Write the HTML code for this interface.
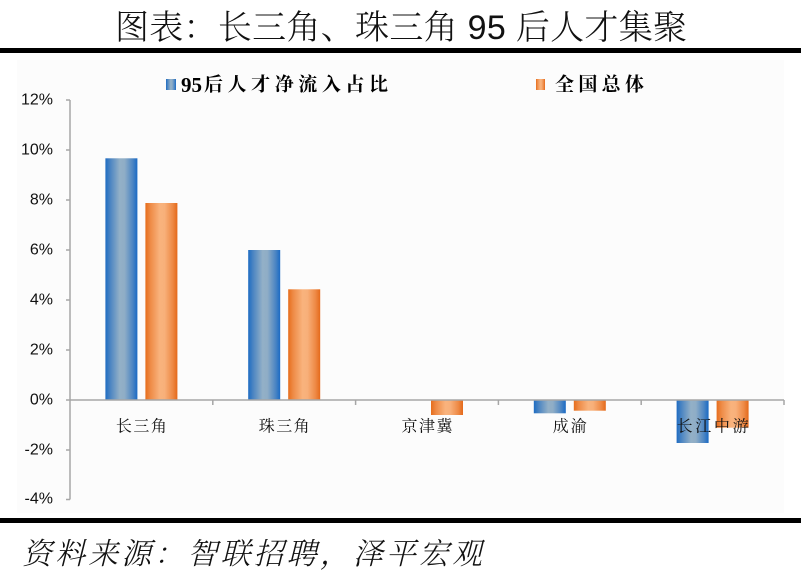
<!DOCTYPE html>
<html>
<head>
<meta charset="utf-8">
<style>
html,body{margin:0;padding:0;background:#fff;}
svg{display:block;}
</style>
</head>
<body>
<svg width="801" height="576" viewBox="0 0 801 576" xmlns="http://www.w3.org/2000/svg">
<defs>
<linearGradient id="gb" x1="0" y1="0" x2="1" y2="0">
<stop offset="0" stop-color="#1e6cc2"/>
<stop offset="0.15" stop-color="#4a84c2"/>
<stop offset="0.45" stop-color="#93b0c7"/>
<stop offset="0.6" stop-color="#8fadc6"/>
<stop offset="0.85" stop-color="#4d86c3"/>
<stop offset="1" stop-color="#1a6ac4"/>
</linearGradient>
<linearGradient id="go" x1="0" y1="0" x2="1" y2="0">
<stop offset="0" stop-color="#e66d1c"/>
<stop offset="0.15" stop-color="#ee8a45"/>
<stop offset="0.45" stop-color="#f9b37d"/>
<stop offset="0.6" stop-color="#f8b07a"/>
<stop offset="0.85" stop-color="#ee8a46"/>
<stop offset="1" stop-color="#e4691a"/>
</linearGradient>
</defs>

<!-- title -->
<text x="401" y="28" text-anchor="middle" dominant-baseline="central" font-family="'Liberation Sans','Noto Serif CJK SC',serif" font-weight="300" font-size="34" fill="#111" textLength="572" lengthAdjust="spacing">图表：长三角、珠三角 95 后人才集聚</text>

<!-- black rules -->
<rect x="0" y="48" width="801" height="5" fill="#000"/>
<rect x="0" y="518" width="801" height="5" fill="#000"/>

<!-- chart area -->
<rect x="17" y="60" width="767" height="453" fill="#fcfcfc"/>

<!-- legend -->
<rect x="166" y="79" width="10" height="11" fill="url(#gb)"/>
<text x="181" y="85" dominant-baseline="central" font-family="'Liberation Serif',serif" font-weight="bold" font-size="21" fill="#000">95</text>
<text x="204" y="85" dominant-baseline="central" font-family="'Liberation Serif','Noto Serif CJK SC',serif" font-weight="bold" font-size="19" fill="#000" textLength="184" lengthAdjust="spacing">后人才净流入占比</text>
<rect x="536" y="79" width="9" height="11" fill="url(#go)"/>
<text x="555" y="85" dominant-baseline="central" font-family="'Liberation Serif','Noto Serif CJK SC',serif" font-weight="bold" font-size="19" fill="#000" textLength="89" lengthAdjust="spacing">全国总体</text>

<!-- y axis -->
<g stroke="#a6a6a6" stroke-width="1.5" fill="none">
<line x1="70" y1="100" x2="70" y2="499.5"/>
<line x1="66" y1="100" x2="70" y2="100"/>
<line x1="66" y1="150" x2="70" y2="150"/>
<line x1="66" y1="200" x2="70" y2="200"/>
<line x1="66" y1="250" x2="70" y2="250"/>
<line x1="66" y1="300" x2="70" y2="300"/>
<line x1="66" y1="350" x2="70" y2="350"/>
<line x1="66" y1="400" x2="70" y2="400"/>
<line x1="66" y1="450" x2="70" y2="450"/>
<line x1="66" y1="499.5" x2="70" y2="499.5"/>
</g>
<g font-family="'Liberation Sans',sans-serif" font-size="16" fill="#111" text-anchor="end" dominant-baseline="central">
<text x="53" y="100">12%</text>
<text x="53" y="150">10%</text>
<text x="53" y="200">8%</text>
<text x="53" y="250">6%</text>
<text x="53" y="300">4%</text>
<text x="53" y="350">2%</text>
<text x="53" y="400">0%</text>
<text x="53" y="450">-2%</text>
<text x="53" y="499">-4%</text>
</g>

<!-- bars -->
<rect x="105.4" y="158.3" width="32" height="241.7" fill="url(#gb)"/>
<rect x="145.4" y="203" width="32" height="197" fill="url(#go)"/>
<rect x="248.2" y="250" width="32" height="150" fill="url(#gb)"/>
<rect x="288.2" y="289.3" width="32" height="110.7" fill="url(#go)"/>
<rect x="431" y="400" width="32" height="15" fill="url(#go)"/>
<rect x="533.8" y="400" width="32" height="13.3" fill="url(#gb)"/>
<rect x="573.8" y="400" width="32" height="10.7" fill="url(#go)"/>
<rect x="676.6" y="400" width="32" height="43" fill="url(#gb)"/>
<rect x="716.6" y="400" width="32" height="27.7" fill="url(#go)"/>

<!-- x axis -->
<g stroke="#a6a6a6" stroke-width="1.5" fill="none">
<line x1="70" y1="400" x2="784" y2="400"/>
<line x1="212.8" y1="400" x2="212.8" y2="405"/>
<line x1="355.6" y1="400" x2="355.6" y2="405"/>
<line x1="498.4" y1="400" x2="498.4" y2="405"/>
<line x1="641.2" y1="400" x2="641.2" y2="405"/>
<line x1="784" y1="400" x2="784" y2="405"/>
</g>

<!-- category labels -->
<g font-family="'Noto Serif CJK SC','Noto Sans CJK SC',serif" font-size="16" fill="#111" dominant-baseline="central" text-anchor="middle">
<text x="141.4" y="425" textLength="51" lengthAdjust="spacing">长三角</text>
<text x="284.2" y="425" textLength="51" lengthAdjust="spacing">珠三角</text>
<text x="427" y="425" textLength="51" lengthAdjust="spacing">京津冀</text>
<text x="569.8" y="425" textLength="34" lengthAdjust="spacing">成渝</text>
<text x="712.6" y="425" textLength="72" lengthAdjust="spacing">长江中游</text>
</g>

<!-- footer -->
<text x="22" y="551" dominant-baseline="central" font-family="'Noto Serif CJK SC','Noto Sans CJK SC',serif" font-weight="300" font-style="italic" font-size="30" fill="#111" textLength="460" lengthAdjust="spacing">资料来源：智联招聘，泽平宏观</text>
</svg>
</body>
</html>
